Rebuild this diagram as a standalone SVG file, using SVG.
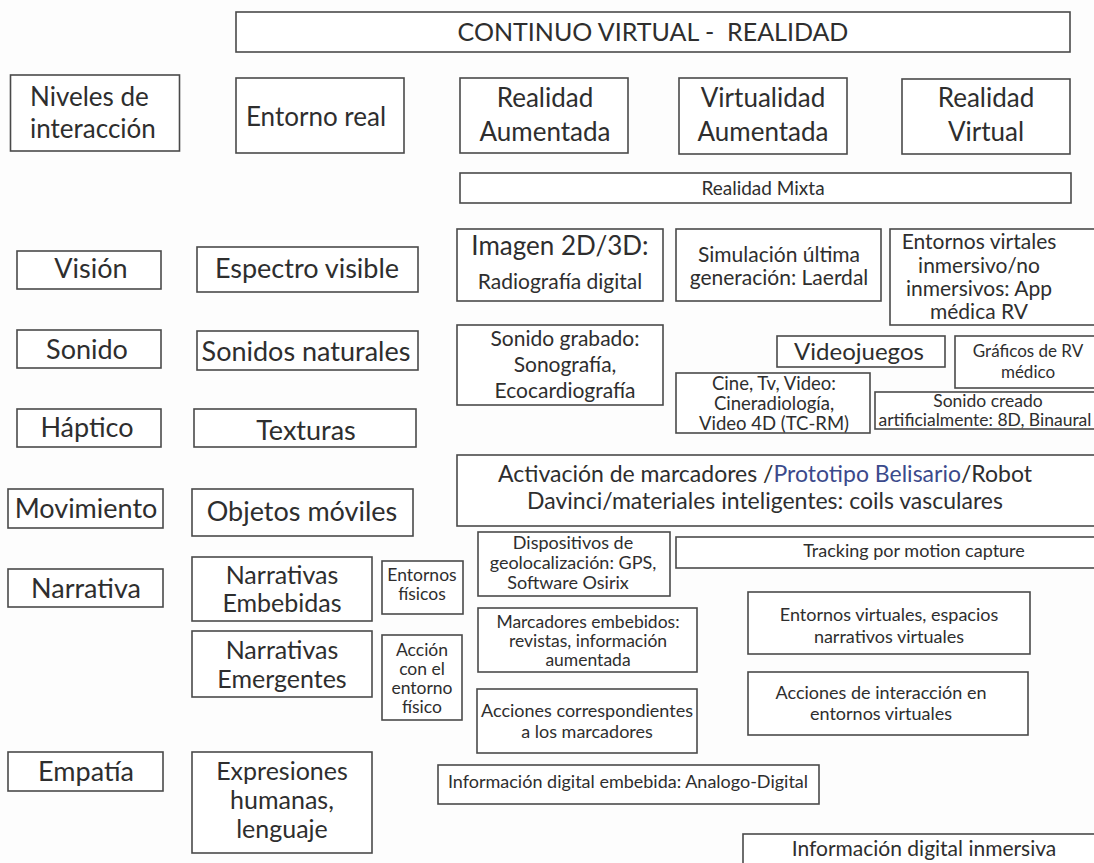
<svg xmlns="http://www.w3.org/2000/svg" width="1094" height="863" viewBox="0 0 1094 863">
  <style>
    .box { fill: #ffffff; stroke: #4a4a4a; stroke-width: 1.6; }
    text { font-family: "Lato", "Open Sans", sans-serif; fill: #2e2e2e; text-anchor: middle; }
    .h { font-size: 26px; }
    .r { font-size: 27px; }
    .r2 { font-size: 25px; }
    .m { font-size: 21px; }
    .s { font-size: 18px; }
    .xs { font-size: 17.5px; }
    .blue { fill: #3b4a8c; }
  </style>
  <rect width="1094" height="863" fill="#fdfdfd"/>

  <!-- header -->
  <g id="titulo">
    <rect class="box" x="236" y="12" width="834" height="40"/>
    <text x="653" y="41" style="font-size:25px" xml:space="preserve">CONTINUO VIRTUAL -  REALIDAD</text>
  </g>
  <g id="niveles">
    <rect class="box" x="10.5" y="75" width="169" height="76"/>
    <text class="h" x="30" y="106" style="text-anchor:start">Niveles de</text>
    <text class="h" x="30" y="138" style="text-anchor:start">interacción</text>
  </g>
  <g id="entorno-real">
    <rect class="box" x="236" y="78" width="168" height="75"/>
    <text class="h" x="316" y="126">Entorno real</text>
  </g>
  <g id="realidad-aumentada">
    <rect class="box" x="460" y="78" width="168" height="75"/>
    <text class="h" x="545" y="107">Realidad</text>
    <text class="h" x="545" y="141">Aumentada</text>
  </g>
  <g id="virtualidad-aumentada">
    <rect class="box" x="679" y="78" width="168" height="76"/>
    <text class="h" x="763" y="107">Virtualidad</text>
    <text class="h" x="763" y="141">Aumentada</text>
  </g>
  <g id="realidad-virtual">
    <rect class="box" x="902" y="79" width="168" height="75"/>
    <text class="h" x="986" y="107">Realidad</text>
    <text class="h" x="986" y="141">Virtual</text>
  </g>
  <g id="realidad-mixta">
    <rect class="box" x="460" y="173" width="611" height="30"/>
    <text x="763" y="195" style="font-size:19px">Realidad Mixta</text>
  </g>

  <!-- left columns -->
  <g id="vision">
    <rect class="box" x="17" y="251" width="144" height="38"/>
    <text class="r" x="91" y="278">Visión</text>
  </g>
  <g id="espectro">
    <rect class="box" x="197" y="247" width="221" height="45"/>
    <text class="r" x="307" y="278">Espectro visible</text>
  </g>
  <g id="sonido">
    <rect class="box" x="17" y="330" width="144" height="38"/>
    <text class="r" x="87" y="359">Sonido</text>
  </g>
  <g id="sonidos-naturales">
    <rect class="box" x="197" y="331" width="221" height="39"/>
    <text class="r" x="306" y="361">Sonidos naturales</text>
  </g>
  <g id="haptico">
    <rect class="box" x="17" y="409" width="144" height="38"/>
    <text class="r" x="87" y="437">Háptico</text>
  </g>
  <g id="texturas">
    <rect class="box" x="194" y="409" width="222" height="38"/>
    <text class="r" x="306" y="440">Texturas</text>
  </g>
  <g id="movimiento">
    <rect class="box" x="8" y="489" width="155" height="39"/>
    <text class="r" x="86" y="518">Movimiento</text>
  </g>
  <g id="objetos-moviles">
    <rect class="box" x="192" y="489" width="221" height="47"/>
    <text class="r" x="302" y="521">Objetos móviles</text>
  </g>
  <g id="narrativa">
    <rect class="box" x="8" y="569" width="155" height="38"/>
    <text class="r" x="86" y="598">Narrativa</text>
  </g>
  <g id="narrativas-embebidas">
    <rect class="box" x="192" y="557" width="180" height="64"/>
    <text class="r2" x="282" y="584">Narrativas</text>
    <text class="r2" x="282" y="612">Embebidas</text>
  </g>
  <g id="entornos-fisicos">
    <rect class="box" x="382" y="561" width="81" height="53"/>
    <text class="xs" x="422" y="581">Entornos</text>
    <text class="xs" x="422" y="600">físicos</text>
  </g>
  <g id="narrativas-emergentes">
    <rect class="box" x="192" y="631" width="180" height="66"/>
    <text class="r2" x="282" y="659">Narrativas</text>
    <text class="r2" x="282" y="688">Emergentes</text>
  </g>
  <g id="accion-entorno">
    <rect class="box" x="382" y="635" width="80" height="85"/>
    <text class="xs" x="422" y="656">Acción</text>
    <text class="xs" x="422" y="675">con el</text>
    <text class="xs" x="422" y="694">entorno</text>
    <text class="xs" x="422" y="713">físico</text>
  </g>
  <g id="empatia">
    <rect class="box" x="8" y="752" width="155" height="39"/>
    <text class="r" x="86" y="781">Empatía</text>
  </g>
  <g id="expresiones">
    <rect class="box" x="192" y="752" width="180" height="101"/>
    <text class="r2" x="282" y="780">Expresiones</text>
    <text class="r2" x="282" y="809">humanas,</text>
    <text class="r2" x="282" y="838">lenguaje</text>
  </g>

  <!-- technology examples -->
  <g id="imagen">
    <rect class="box" x="457" y="229" width="206" height="72"/>
    <text x="560" y="255" style="font-size:26px">Imagen 2D/3D:</text>
    <text class="m" x="560" y="289">Radiografía digital</text>
  </g>
  <g id="simulacion">
    <rect class="box" x="676" y="229" width="205" height="72"/>
    <text class="m" x="779" y="262">Simulación última</text>
    <text class="m" x="779" y="285">generación: Laerdal</text>
  </g>
  <g id="entornos-virtales">
    <rect class="box" x="890" y="229" width="210" height="96"/>
    <text class="m" x="979" y="249">Entornos virtales</text>
    <text class="m" x="979" y="273">inmersivo/no</text>
    <text class="m" x="979" y="296">inmersivos: App</text>
    <text class="m" x="979" y="319">médica RV</text>
  </g>
  <g id="sonido-grabado">
    <rect class="box" x="457" y="325" width="206" height="80"/>
    <text class="m" x="565" y="346">Sonido grabado:</text>
    <text class="m" x="565" y="372">Sonografía,</text>
    <text class="m" x="565" y="398">Ecocardiografía</text>
  </g>
  <g id="videojuegos">
    <rect class="box" x="777" y="336" width="168" height="31"/>
    <text x="859" y="360" style="font-size:24px">Videojuegos</text>
  </g>
  <g id="graficos">
    <rect class="box" x="955" y="336" width="145" height="52"/>
    <text x="1028" y="357" style="font-size:17px">Gráficos de RV</text>
    <text x="1028" y="378" style="font-size:17px">médico</text>
  </g>
  <g id="cine">
    <rect class="box" x="676" y="373" width="194" height="60"/>
    <text x="774" y="390" style="font-size:18.5px">Cine, Tv, Video:</text>
    <text x="774" y="410" style="font-size:18.5px">Cineradiología,</text>
    <text x="774" y="430" style="font-size:18.5px">Video 4D (TC-RM)</text>
  </g>
  <g id="sonido-creado">
    <rect class="box" x="875" y="392" width="225" height="37"/>
    <text class="xs" x="988" y="407">Sonido creado</text>
    <text class="xs" x="985" y="426">artificialmente: 8D, Binaural</text>
  </g>
  <g id="activacion">
    <rect class="box" x="457" y="455" width="643" height="71"/>
    <text x="765" y="482" style="font-size:23px">Activación de marcadores /<tspan class="blue">Prototipo Belisario</tspan>/Robot</text>
    <text x="765" y="509" style="font-size:23px">Davinci/materiales inteligentes: coils vasculares</text>
  </g>
  <g id="dispositivos">
    <rect class="box" x="478" y="532" width="192" height="64"/>
    <text class="s" x="573" y="549">Dispositivos de</text>
    <text class="s" x="573" y="569">geolocalización: GPS,</text>
    <text class="s" x="568" y="589">Software Osirix</text>
  </g>
  <g id="tracking">
    <rect class="box" x="676" y="537" width="424" height="31"/>
    <text class="s" x="914" y="557">Tracking por motion capture</text>
  </g>
  <g id="entornos-virtuales">
    <rect class="box" x="748" y="592" width="282" height="62"/>
    <text class="s" x="889" y="621">Entornos virtuales, espacios</text>
    <text class="s" x="889" y="643">narrativos virtuales</text>
  </g>
  <g id="marcadores">
    <rect class="box" x="478" y="608" width="219" height="64"/>
    <text class="xs" x="588" y="628">Marcadores embebidos:</text>
    <text class="xs" x="588" y="647">revistas, información</text>
    <text class="xs" x="588" y="666">aumentada</text>
  </g>
  <g id="acciones-marcadores">
    <rect class="box" x="477" y="689" width="220" height="64"/>
    <text class="s" x="587" y="717">Acciones correspondientes</text>
    <text class="s" x="587" y="738">a los marcadores</text>
  </g>
  <g id="acciones-interaccion">
    <rect class="box" x="748" y="672" width="280" height="63"/>
    <text class="s" x="881" y="699">Acciones de interacción en</text>
    <text class="s" x="881" y="720">entornos virtuales</text>
  </g>
  <g id="info-embebida">
    <rect class="box" x="438" y="765" width="381" height="39"/>
    <text class="s" x="628" y="788">Información digital embebida: Analogo-Digital</text>
  </g>
  <g id="info-inmersiva">
    <rect class="box" x="743" y="834" width="357" height="40"/>
    <text x="924" y="856" style="font-size:21px">Información digital inmersiva</text>
  </g>

  <!-- no connectors are drawn between the boxes -->
  <g id="connectors"/>
</svg>
